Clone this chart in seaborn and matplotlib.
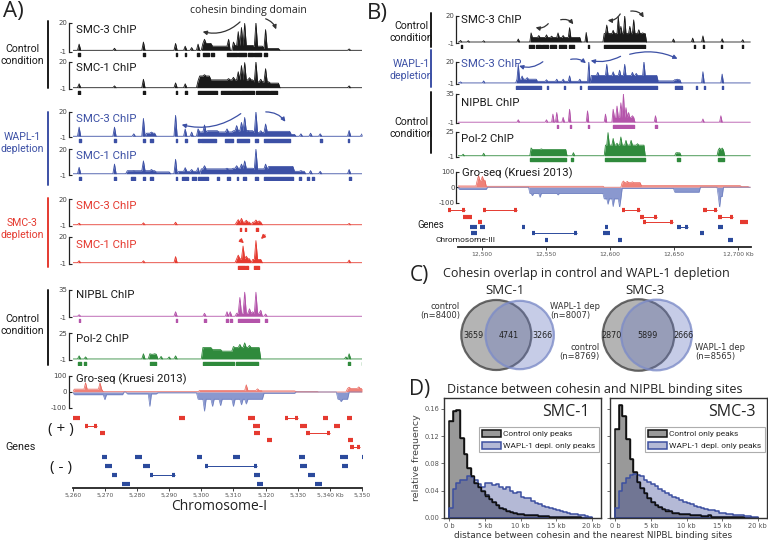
import numpy as np
import pandas as pd
import matplotlib
matplotlib.use("Agg")
import matplotlib.pyplot as plt
import seaborn as sns
from matplotlib import font_manager
from matplotlib.patches import Circle, Patch, FancyArrowPatch
from matplotlib.lines import Line2D
from matplotlib.colors import to_rgba

sns.set_theme(style="white")
plt.rcParams["font.family"] = ["DejaVu Sans"]
have = {f.name for f in font_manager.fontManager.ttflist}
if "Liberation Sans Narrow" in have:
    NARROW, NS = ["Liberation Sans Narrow", "DejaVu Sans"], 1.0
elif "Roboto" in have:
    NARROW, NS = ["Roboto", "DejaVu Sans"], 0.86
else:
    NARROW, NS = ["DejaVu Sans"], 0.8
HEAD = ["Open Sans", "DejaVu Sans"]

BLACK, BLUE, RED = "#1a1a1a", "#3c50a5", "#e53a30"
MAG, GREEN = "#b454aa", "#2f8a3c"
GRO_P, GRO_M = "#ef8178", "#8a98cf"

# ---------------- panel A data (kb on chromosome I) ----------------
xlim_A = (5260, 5350)
smc3_ctrl_A = [(5262, 4.5), (5273, 1.5), (5282, 6), (5292, 5), (5295, 3), (5297, 2), (5299, 4.5), (5301, 8),
               (5308.5, 8), (5310, 6), (5311.5, 13.5), (5312.5, 16.5), (5313.5, 19.5), (5317, 21), (5320, 15), (5346, 1)]
smc3_ctrl_A_broad = [(5300.5, 5303, 5), (5303, 5308, 3), (5310, 5316, 3.5), (5316, 5319, 3), (5319, 5324, 1.3)]
smc3_ctrl_A_calls = [(5261.8, 5262.4), (5282, 5282.6), (5292, 5292.6), (5294.8, 5295.4), (5298.8, 5299.4),
                     (5300.5, 5302.5), (5303, 5304), (5308, 5311), (5311.3, 5313.8), (5314.5, 5316),
                     (5316.5, 5318.5), (5319.5, 5320.5)]

smc1_ctrl_A = [(5262, 3), (5273, 1.4), (5282, 6.5), (5292, 3.7), (5295, 3), (5299, 5.3), (5301, 10), (5308.5, 7),
               (5310, 8), (5311.5, 12.3), (5312.5, 17), (5313.5, 19.3), (5315, 7.7), (5317, 20.5), (5318.5, 6.5),
               (5320, 14.6), (5346, 1.4)]
smc1_ctrl_A_broad = [(5299.5, 5302.5, 9), (5302.5, 5308, 6), (5308, 5316, 6), (5316, 5321, 4.5), (5321, 5324, 3.5)]
smc1_ctrl_A_calls = [(5261.8, 5262.4), (5282, 5282.6), (5292, 5292.6), (5295, 5295.5), (5299, 5305),
                     (5306, 5312), (5312.5, 5316.5), (5317, 5321), (5321.5, 5323.5)]

smc3_wapl_A = [(5262, 7.4), (5273, 7.4), (5279, 2), (5282, 14.5), (5284.5, 3.4), (5292, 17), (5295, 6), (5297, 3.4),
               (5299, 6), (5301, 9.2), (5308, 6), (5311, 8.7), (5312.5, 11.3), (5313.5, 15.3), (5314.5, 4.7),
               (5317, 21), (5318.5, 4.5), (5320, 10), (5331, 2), (5334, 2.5), (5337, 2), (5346, 4.7), (5350, 2)]
smc3_wapl_A_broad = [(5283, 5285.5, 2.5), (5299.5, 5310, 3.5), (5302, 5305, 4.5), (5310, 5316, 4.5),
                     (5316, 5320, 3), (5320.5, 5327.5, 4), (5328, 5329, 1.5)]
smc3_wapl_A_calls = [(5262, 5262.5), (5273, 5273.5), (5282, 5282.5), (5284, 5285), (5292, 5292.5), (5295, 5295.5),
                     (5299, 5299.5), (5300, 5304.5), (5307.5, 5310), (5311, 5315), (5316.8, 5317.8),
                     (5319.5, 5327.5), (5337, 5337.5), (5345.5, 5346)]

smc1_wapl_A = [(5262, 5.3), (5273, 7.9), (5279, 2.6), (5282, 10.5), (5284.5, 3.5), (5292, 11.8), (5295, 5),
               (5297, 3.5), (5299, 5), (5301, 6.6), (5308, 4.5), (5311, 6.6), (5312.5, 7.9), (5313.5, 10.5),
               (5317, 21), (5320, 7.9), (5331, 2.6), (5334, 2.6), (5337, 2), (5346, 3.5)]
smc1_wapl_A_broad = [(5277, 5285.5, 2.5), (5286, 5290, 1.5), (5293, 5299, 2), (5300, 5310, 4), (5310, 5316, 4.5),
                     (5316, 5321, 4), (5321, 5328.5, 6), (5329, 5332, 2)]
smc1_wapl_A_calls = [(5262, 5262.5), (5273, 5273.5), (5278, 5279.5), (5282, 5282.5), (5284, 5285), (5292, 5292.5),
                     (5294, 5296), (5297, 5298.5), (5299, 5302), (5305, 5305.5), (5308, 5309), (5311, 5311.5),
                     (5313, 5314), (5316.8, 5317.8), (5319.5, 5328.5), (5330.5, 5331), (5333, 5333.5),
                     (5334.5, 5335), (5346, 5346.5)]

smc3_dep_A = [(5262, 1.2), (5282, 1.5), (5292, 2), (5311.5, 4), (5312.5, 5), (5314, 3.5), (5317, 3.7), (5318, 3),
              (5346, 1)]
smc3_dep_A_broad = [(5311, 5315, 2), (5316, 5318.5, 2)]
smc3_dep_A_calls = [(5312, 5312.5), (5313.5, 5314), (5317, 5317.6)]

smc1_dep_A = [(5262, 1.5), (5282, 1.5), (5292, 4.7), (5311.5, 5.8), (5313, 12.8), (5314, 5), (5317, 17), (5346, 2)]
smc1_dep_A_broad = [(5311, 5315, 3), (5316, 5318.5, 2.5)]
smc1_dep_A_calls = [(5311.5, 5313.5), (5313.8, 5314.5), (5316.5, 5318)]

nipbl_A = [(5262, 2), (5292, 6), (5301, 4), (5308, 6), (5309, 6), (5312, 25), (5313.5, 32), (5315, 10),
           (5316, 6), (5317, 32), (5318.5, 8), (5320, 3)]
nipbl_A_broad = [(5311, 5318, 4)]
nipbl_A_calls = [(5262, 5262.4), (5292, 5292.4), (5301, 5301.4), (5307.8, 5308.3), (5309, 5309.5),
                 (5311.5, 5316), (5316.5, 5318), (5319.8, 5320.3)]

pol2_A = [(5262, 3), (5264, 2), (5282, 5), (5284, 5), (5285.5, 5), (5287.5, 2.5), (5290, 2), (5292, 3),
          (5301, 11), (5310, 12), (5312, 14), (5313.5, 15.5), (5315, 13), (5316, 11), (5345, 2), (5346, 5)]
pol2_A_broad = [(5284, 5286, 4.5), (5300.5, 5303, 11), (5303, 5306, 9), (5306, 5310, 7.5), (5310.5, 5318, 11)]
pol2_A_calls = [(5261.8, 5262.5), (5263.5, 5264), (5284, 5286), (5300.5, 5310.3), (5310.7, 5317.8),
                (5345.8, 5346.4), (5350, 5350.4)]

gro_plus_A = [(5264, 58), (5268.5, 58), (5314, 45), (5317.5, 20), (5346, 30), (5349, 32)]
gro_plus_A_broad = [(5260.5, 5269, 18), (5269, 5299.5, 2), (5299.5, 5318.5, 10), (5318.5, 5329, 7),
                    (5329, 5336, 3), (5345.5, 5350.5, 22)]
gro_minus_A = [(5270, -48), (5284, -90), (5301.2, -120), (5303.3, -90), (5306, -85), (5310, -90),
               (5312.7, -80), (5314, -75), (5343.5, -60)]
gro_minus_A_broad = [(5260.5, 5275.7, -17), (5277, 5286, -12), (5286, 5299, -5), (5299, 5319, -45),
                     (5319, 5329, -8), (5342.4, 5345.5, -45)]

genes_plus_A = [
    [(5260.1, 5262.3), (5293.1, 5295), (5314.6, 5316.8), (5326.1, 5330.1), (5338, 5339.5), (5345.4, 5347)],
    [(5263.8, 5267.6), (5316.2, 5318.4), (5330.8, 5333), (5341.4, 5343.3)],
    [(5268.5, 5270), (5316.5, 5318.4), (5332.7, 5340.2)],
    [(5320.5, 5322), (5345.8, 5347.3)],
    [(5346.4, 5349.5)],
]
genes_minus_A = [
    [(5269.1, 5270.7), (5279.4, 5281.6), (5298.7, 5300.3), (5310, 5312.2), (5330.5, 5332.4), (5343.3, 5345.5),
     (5349.9, 5350.4)],
    [(5270.1, 5272.2), (5281.9, 5284.1), (5301.2, 5317.4), (5330.8, 5333), (5343.9, 5345.5)],
    [(5272.2, 5273.8), (5284.1, 5291.9), (5316.5, 5318.4), (5333.3, 5335.5)],
    [(5275.4, 5277.9), (5317.4, 5319.3), (5335.5, 5337.7)],
]
ticks_A = [5260, 5270, 5280, 5290, 5300, 5310, 5320, 5330, 5340, 5350]
ticklabels_A = ["5,260", "5,270", "5,280", "5,290", "5,300", "5,310", "5,320", "5,330", "5,340 Kb", "5,350"]

# ---------------- panel B data (kb on chromosome III) ----------------
xlim_B = (12481.5, 12710)
smc3_ctrl_B = [(12484, 1.2), (12490, 1), (12502, 1), (12529, 2.3), (12539, 7), (12545, 5), (12550.8, 5.5),
               (12555, 4.5), (12559.9, 7), (12564, 5), (12569, 11), (12574, 3.5), (12582, 7.3), (12597.7, 13),
               (12602.6, 9), (12606.5, 19.5), (12609, 12), (12612, 21), (12615.9, 12), (12618.3, 17),
               (12622.9, 9.4), (12626, 7), (12650, 2.3), (12665, 3), (12673, 4.7), (12687.5, 2.5), (12704, 1.8)]
smc3_ctrl_B_broad = [(12537.8, 12576.8, 3.5), (12595, 12627.6, 6.5)]
smc3_ctrl_B_calls = [(12483.5, 12484.5), (12537, 12541), (12542, 12546), (12547, 12552), (12553, 12558),
                     (12560, 12566), (12568, 12572), (12582.5, 12583.5), (12595, 12627), (12665.5, 12666.5),
                     (12672.5, 12673.5), (12686.5, 12687.5), (12703, 12704)]

smc3_wapl_B = [(12484, 1), (12502, 1.9), (12528.5, 17.5), (12532, 6.5), (12536, 5), (12551, 3), (12558.5, 3.5),
               (12564, 3.5), (12569, 6.7), (12577, 3.5), (12583.3, 20), (12590.5, 10), (12597.7, 17.5),
               (12602.6, 10.5), (12608, 12), (12612, 17.5), (12617.2, 10), (12621, 9), (12626.3, 21),
               (12631.5, 5), (12652.4, 3.5), (12673, 10.5), (12687.5, 8.3)]
smc3_wapl_B_broad = [(12527, 12543, 3.5), (12543, 12582, 1.5), (12584.7, 12636.7, 7), (12637, 12650, 1.9),
                     (12650, 12655, 3)]
smc3_wapl_B_calls = [(12526.5, 12546), (12551, 12551.7), (12564, 12564.7), (12577, 12577.7), (12582.5, 12637),
                     (12651, 12656), (12667, 12667.7), (12673, 12674), (12687, 12688)]

nipbl_B = [(12529, 3), (12551, 3), (12556, 10), (12559, 12), (12564, 6), (12569, 16), (12583, 14), (12597, 10),
           (12603, 16), (12606, 20), (12609, 24), (12611, 35), (12613, 18), (12615, 12), (12617.5, 8),
           (12636, 8), (12673, 4), (12687, 8)]
nipbl_B_broad = [(12602, 12619, 6)]
nipbl_B_calls = [(12558.5, 12559.5), (12568.5, 12569.5), (12582.5, 12583.5), (12602, 12619), (12635.5, 12636.5)]

pol2_B = [(12486, 1.6), (12502, 2.6), (12539, 8.1), (12547, 7.1), (12557, 5.8), (12561, 3.2), (12572, 3.2),
          (12599, 24), (12603, 18), (12606, 13), (12609, 19.5), (12612.5, 16), (12616.5, 16), (12621.5, 12.5),
          (12625.5, 10), (12653, 3.2), (12686, 8), (12688, 8)]
pol2_B_broad = [(12538, 12566, 6.5), (12596, 12627, 11), (12651, 12655, 3), (12684, 12689, 6)]
pol2_B_calls = [(12538, 12566), (12569.5, 12571.5), (12596, 12627), (12652, 12655), (12684, 12689)]

gro_plus_B = [(12498, 75), (12500.5, 70), (12611, 40), (12614, 38), (12618, 35), (12622, 30)]
gro_plus_B_broad = [(12481.5, 12496, 8), (12496, 12503, 45), (12503, 12595, 6), (12609, 12624, 30),
                    (12624, 12702, 10), (12702, 12708, 5)]
gro_minus_B = [(12540, -55), (12546, -65), (12560, -50), (12599, -110), (12603, -125), (12608, -130),
               (12686, -130)]
gro_minus_B_broad = [(12482, 12504, -14), (12537, 12595, -40), (12595, 12609, -75), (12609, 12650, -8),
                     (12650, 12670, -32), (12684, 12688, -60)]

genes_plus_B = [
    [(12473.7, 12487), (12501, 12527.6), (12609.6, 12623.7), (12672.9, 12683.8)],
    [(12485.4, 12492.4), (12623.7, 12637), (12684.6, 12696.3)],
    [(12497.1, 12500.3), (12626, 12649.5), (12701.8, 12708)],
]
genes_minus_B = [
    [(12490.9, 12496.3), (12498.7, 12502.6), (12531.5, 12533.8), (12596.3, 12598.7), (12652.6, 12661.2),
     (12684.6, 12688.5)],
    [(12491.5, 12496.3), (12539.3, 12574.5), (12594.8, 12600.3), (12670.6, 12673)],
    [(12549.5, 12551.8), (12606.5, 12609.4), (12692.4, 12695.6)],
]
ticks_B = [12500, 12550, 12600, 12650, 12700]
ticklabels_B = ["12,500", "12,550", "12,600", "12,650", "12,700 Kb"]

# ---------------- panel C data ----------------
venn_names = ["SMC-1", "SMC-3"]
only_ctrl = [3659, 2870]
both = [4741, 5899]
only_wapl = [3266, 2666]

# ---------------- panel D data (relative frequency per 0.5 kb bin) ----------------
bin_width, bin_range = 0.5, (0, 20)
ctrl_smc1 = [0.142, 0.157, 0.158, 0.118, 0.094, 0.073, 0.062, 0.052, 0.046, 0.040, 0.033, 0.028, 0.024, 0.019,
             0.015, 0.013, 0.010, 0.009, 0.007, 0.006, 0.006, 0.005, 0.004, 0.004, 0.004, 0.003, 0.003, 0.003,
             0.002, 0.002, 0.002, 0.002, 0.001, 0.001, 0.001, 0.001, 0.001, 0.0, 0.0, 0.0]
wapl_smc1 = [0.015, 0.042, 0.052, 0.056, 0.055, 0.061, 0.060, 0.055, 0.050, 0.046, 0.052, 0.051, 0.048, 0.050,
             0.046, 0.042, 0.045, 0.040, 0.036, 0.038, 0.031, 0.029, 0.030, 0.025, 0.022, 0.021, 0.018, 0.016,
             0.014, 0.013, 0.011, 0.010, 0.009, 0.008, 0.006, 0.006, 0.004, 0.004, 0.003, 0.002]
ctrl_smc3 = [0.130, 0.166, 0.150, 0.116, 0.086, 0.068, 0.053, 0.044, 0.036, 0.030, 0.023, 0.019, 0.016, 0.013,
             0.011, 0.010, 0.008, 0.008, 0.006, 0.006, 0.006, 0.004, 0.005, 0.004, 0.003, 0.003, 0.004, 0.002,
             0.002, 0.002, 0.002, 0.002, 0.001, 0.001, 0.001, 0.001, 0.0, 0.0, 0.0, 0.0]
wapl_smc3 = [0.015, 0.040, 0.052, 0.058, 0.063, 0.064, 0.063, 0.061, 0.056, 0.053, 0.050, 0.047, 0.043, 0.040,
             0.037, 0.034, 0.031, 0.029, 0.027, 0.024, 0.022, 0.020, 0.018, 0.016, 0.015, 0.013, 0.012, 0.011,
             0.010, 0.008, 0.007, 0.006, 0.006, 0.005, 0.004, 0.004, 0.003, 0.003, 0.002, 0.002]
dist_ticks = [0, 5, 10, 15, 20]
dist_labels = ["0 b", "5 kb", "10 kb", "15 kb", "20 kb"]

# ================= drawing =================
W, H = 768, 544
fig = plt.figure(figsize=(7.68, 5.44), dpi=100)


def px_axes(x0, y0, x1, y1):
    return fig.add_axes([x0 / W, 1 - y1 / H, (x1 - x0) / W, (y1 - y0) / H])


def ftext(x, y, s, **kw):
    kw.setdefault("va", "center")
    fig.text(x / W, 1 - y / H, s, **kw)


def vbar(x, y0, y1, color):
    fig.add_artist(Line2D([x / W, x / W], [1 - y0 / H, 1 - y1 / H], color=color, lw=1.4))


def arrow(p0, p1, color, rad=-0.3):
    fig.add_artist(FancyArrowPatch((p0[0] / W, 1 - p0[1] / H), (p1[0] / W, 1 - p1[1] / H),
                                   transform=fig.transFigure, connectionstyle=f"arc3,rad={rad}",
                                   arrowstyle="-|>", mutation_scale=6, color=color, lw=0.9))


def signal(xlim, step, peaks, broad):
    grid = np.arange(xlim[0], xlim[1] + step / 2, step)
    sig = np.zeros(len(grid))
    for s, e, v in broad:
        m = (grid >= s) & (grid <= e)
        sig[m] = np.maximum(sig[m], v) if v > 0 else np.minimum(sig[m], v)
    for kb, v in peaks:
        i = np.abs(grid - kb).argmin()
        sig[i] = max(sig[i], v) if v > 0 else min(sig[i], v)
    return grid, sig


def scale_spine(ax, lo, hi, ticks, labels, out):
    for sp in ["top", "right", "bottom"]:
        ax.spines[sp].set_visible(False)
    ax.spines["left"].set_bounds(lo, hi)
    ax.spines["left"].set_position(("outward", out))
    ax.spines["left"].set_color("#222222")
    ax.spines["left"].set_linewidth(0.9)
    ax.set_yticks(ticks, labels)
    ax.tick_params(axis="y", direction="in", length=2, width=0.8, labelsize=5, pad=1, labelcolor="#444444",
                   color="#222222", left=True)
    ax.set_xticks([])
    ax.patch.set_alpha(0)


def chip_track(x0, x1, xlim, step, ytop, ybase, vmax, peaks, broad, calls, color, out):
    ax = px_axes(x0, ytop, x1, ybase + 6)
    upp = (vmax + 1) / (ybase - ytop)
    ax.set_xlim(*xlim)
    ax.set_ylim(-1 - 6 * upp, vmax)
    grid, sig = signal(xlim, step, peaks, broad)
    sig = np.minimum(sig, vmax)
    ax.fill_between(grid, 0, sig, color=color, lw=0)
    ax.plot(grid, sig, color=color, lw=0.6)
    ax.broken_barh([(s, e - s) for s, e in calls], (-1 - 4.6 * upp, 3 * upp), color=color)
    scale_spine(ax, -1, vmax, [-1, vmax], ["-1", str(vmax)], out)
    return ax


def gro_track(x0, x1, xlim, step, y100, y0, ym100, plus, plus_b, minus, minus_b, out, pad_top, pad_bot):
    ax = px_axes(x0, y100 - pad_top, x1, ym100 + pad_bot)
    ppu = (ym100 - y100) / 200
    ax.set_xlim(*xlim)
    ax.set_ylim(-100 - pad_bot / ppu, 100 + pad_top / ppu)
    g, sp = signal(xlim, step, plus, plus_b)
    g, sm = signal(xlim, step, minus, minus_b)
    ax.fill_between(g, 0, sp, color=GRO_P, lw=0)
    ax.plot(g, sp, color="#e8645a", lw=0.5)
    ax.fill_between(g, 0, sm, color=GRO_M, lw=0)
    ax.plot(g, sm, color="#6f80c0", lw=0.5)
    scale_spine(ax, -100, 100, [-100, 0, 100], ["-100", "0", "100"], out)
    return ax


def gene_track(x0, x1, y0, y1, xlim, plus_rows, plus_y, minus_rows, minus_y, block, ticks, labels):
    ax = px_axes(x0, y0, x1, y1)
    ax.set_xlim(*xlim)
    ax.set_ylim(y1, y0)
    for rows, ys, col in [(plus_rows, plus_y, RED), (minus_rows, minus_y, "#2b4a9c")]:
        for genes, y in zip(rows, ys):
            for s, e in genes:
                if e - s <= 3 * block:
                    ax.hlines(y, s, e, color=col, lw=3, clip_on=False)
                    continue
                ax.hlines(y, s, e, color=col, lw=0.7, clip_on=False)
                ax.hlines(y, s, s + block, color=col, lw=3, clip_on=False)
                ax.hlines(y, e - block, e, color=col, lw=3, clip_on=False)
    for sp in ["top", "right", "left"]:
        ax.spines[sp].set_visible(False)
    ax.spines["bottom"].set_color("#222222")
    ax.spines["bottom"].set_linewidth(1.3)
    ax.set_yticks([])
    ax.set_xticks(ticks, labels)
    ax.tick_params(axis="x", direction="out", length=2, width=0.6, labelsize=4.3, pad=1.5,
                   labelcolor="#555555", bottom=True)
    ax.patch.set_alpha(0)
    return ax


# ---------- Panel A ----------
AX0, AX1 = 72.7, 362
a_tracks = [
    (22.7, 51.7, 20, smc3_ctrl_A, smc3_ctrl_A_broad, smc3_ctrl_A_calls, BLACK, "SMC-3 ChIP", 33),
    (61.7, 89, 20, smc1_ctrl_A, smc1_ctrl_A_broad, smc1_ctrl_A_calls, BLACK, "SMC-1 ChIP", 71),
    (111.7, 137.5, 20, smc3_wapl_A, smc3_wapl_A_broad, smc3_wapl_A_calls, BLUE, "SMC-3 ChIP", 122),
    (149.3, 175, 20, smc1_wapl_A, smc1_wapl_A_broad, smc1_wapl_A_calls, BLUE, "SMC-1 ChIP", 159),
    (199.3, 226, 20, smc3_dep_A, smc3_dep_A_broad, smc3_dep_A_calls, RED, "SMC-3 ChIP", 209),
    (236.7, 264, 20, smc1_dep_A, smc1_dep_A_broad, smc1_dep_A_calls, RED, "SMC-1 ChIP", 248),
    (290, 317, 35, nipbl_A, nipbl_A_broad, nipbl_A_calls, MAG, "NIPBL ChIP", 298),
    (333, 360, 25, pol2_A, pol2_A_broad, pol2_A_calls, GREEN, "Pol-2 ChIP", 342),
]
for ytop, ybase, vmax, pk, br, cl, col, lab, ylab in a_tracks:
    chip_track(AX0, AX1, xlim_A, 0.5, ytop, ybase, vmax, pk, br, cl, col, 3)
    ftext(76, ylab, lab, va="baseline", fontsize=9.5 * NS, family=NARROW,
          color=col if col != MAG and col != GREEN else BLACK)
gro_track(AX0, AX1, xlim_A, 0.5, 376, 392, 408, gro_plus_A, gro_plus_A_broad, gro_minus_A, gro_minus_A_broad,
          3, 4, 6)
ftext(76, 382, "Gro-seq (Kruesi 2013)", va="baseline", fontsize=9.5 * NS, family=NARROW, color=BLACK)
gene_track(AX0, AX1, 414, 488, xlim_A, genes_plus_A, [418, 425.5, 433, 440, 447], genes_minus_A,
           [456.5, 465.5, 475, 484], 1.0, ticks_A, ticklabels_A)
ftext(219, 506, "Chromosome-I", ha="center", fontsize=10, family=HEAD, color="#222222")

ftext(3, 12, "A)", fontsize=16, family=HEAD, color="#222222")
ftext(248, 11, "cohesin binding domain", ha="center", fontsize=7.5, family=HEAD, color="#222222")
arrow((242, 20), (200, 31), "#333333", -0.3)
arrow((263, 18), (277, 32), "#333333", -0.3)
arrow((243, 112), (179, 124), BLUE, -0.25)
arrow((263, 112), (287, 124), BLUE, -0.3)
arrow((238, 238), (246, 245), RED, 0)
arrow((267, 233), (259, 241), RED, 0)

vbar(48, 21, 88, BLACK)
vbar(48, 112, 185, BLUE)
vbar(48, 198, 267, RED)
vbar(48, 290, 365, BLACK)
lab_kw = dict(ha="center", fontsize=8.8 * NS, family=NARROW, linespacing=1.15)
ftext(22, 55, "Control\ncondition", color=BLACK, **lab_kw)
ftext(22, 143, "WAPL-1\ndepletion", color=BLUE, **lab_kw)
ftext(22, 229, "SMC-3\ndepletion", color=RED, **lab_kw)
ftext(22, 325, "Control\ncondition", color=BLACK, **lab_kw)
ftext(21, 447, "Genes", ha="center", fontsize=9 * NS, family=NARROW, color=BLACK)
ftext(61, 429, "( + )", ha="center", fontsize=11, family=HEAD, color=BLACK)
ftext(61, 467, "( - )", ha="center", fontsize=11, family=HEAD, color=BLACK)

# ---------- Panel B ----------
BX0, BX1 = 458, 751
b_tracks = [
    (16, 43.3, 20, smc3_ctrl_B, smc3_ctrl_B_broad, smc3_ctrl_B_calls, BLACK, "SMC-3 ChIP", 23),
    (61.7, 84, 20, smc3_wapl_B, smc3_wapl_B_broad, smc3_wapl_B_calls, BLUE, "SMC-3 ChIP", 66.7),
    (94, 123, 35, nipbl_B, nipbl_B_broad, nipbl_B_calls, MAG, "NIPBL ChIP", 106),
    (131.7, 156.7, 25, pol2_B, pol2_B_broad, pol2_B_calls, GREEN, "Pol-2 ChIP", 141.7),
]
for ytop, ybase, vmax, pk, br, cl, col, lab, ylab in b_tracks:
    chip_track(BX0, BX1, xlim_B, 1, ytop, ybase, vmax, pk, br, cl, col, 1.5)
    ftext(461, ylab, lab, va="baseline", fontsize=9.5 * NS, family=NARROW,
          color=col if col != MAG and col != GREEN else BLACK)
gro_track(BX0, BX1, xlim_B, 1, 171.7, 187.3, 202.7, gro_plus_B, gro_plus_B_broad, gro_minus_B,
          gro_minus_B_broad, 1.5, 3, 4)
ftext(462, 176.7, "Gro-seq (Kruesi 2013)", va="baseline", fontsize=9.5 * NS, family=NARROW, color=BLACK)
gene_track(BX0, BX1, 207, 247, xlim_B, genes_plus_B, [210, 216.5, 221.5], genes_minus_B,
           [226.7, 232.7, 240], 2.5, ticks_B, ticklabels_B)
ftext(431, 225, "Genes", ha="center", fontsize=8 * NS, family=NARROW, color=BLACK)
ftext(466, 240, "Chromosome-III", ha="center", fontsize=7 * NS, family=NARROW, color=BLACK)

ftext(367, 13, "B)", fontsize=16, family=HEAD, color="#222222")
arrow((550, 21.5), (533, 26.5), "#333333", -0.4)
arrow((558, 20.5), (575, 26.5), "#333333", -0.4)
arrow((621.5, 11.5), (605, 20), "#333333", -0.4)
arrow((628, 11.5), (645, 20), "#333333", -0.4)
arrow((545, 60), (516.5, 65), BLUE)
arrow((568, 60), (588, 65), BLUE)
arrow((623, 55), (588, 60), BLUE, -0.2)
arrow((627, 55), (680, 60), BLUE, -0.2)

vbar(431, 13, 47, BLACK)
vbar(431, 50, 87, BLUE)
vbar(431, 92, 153, BLACK)
ftext(411, 32, "Control\ncondition", color=BLACK, **lab_kw)
ftext(411, 70, "WAPL-1\ndepletion", color=BLUE, **lab_kw)
ftext(411, 128, "Control\ncondition", color=BLACK, **lab_kw)

# ---------- Panel C : area-proportional Venn diagrams ----------
def lens_area(r1, r2, d):
    a1 = r1 ** 2 * np.arccos((d * d + r1 * r1 - r2 * r2) / (2 * d * r1))
    a2 = r2 ** 2 * np.arccos((d * d + r2 * r2 - r1 * r1) / (2 * d * r2))
    a3 = 0.5 * np.sqrt((-d + r1 + r2) * (d + r1 - r2) * (d - r1 + r2) * (d + r1 + r2))
    return a1 + a2 - a3


def centre_distance(r1, r2, area):
    lo, hi = abs(r1 - r2) + 1e-9, r1 + r2
    for _ in range(80):
        d = (lo + hi) / 2
        if lens_area(r1, r2, d) > area:
            lo = d
        else:
            hi = d
    return d


axc = px_axes(384, 283, 768, 376)
axc.set_xlim(384, 768)
axc.set_ylim(376, 283)
axc.axis("off")
PXU = 35 / np.sqrt((only_ctrl[0] + both[0]) / np.pi)
for mid, a, b, c in zip([508, 647.5], only_ctrl, both, only_wapl):
    r1 = np.sqrt((a + b) / np.pi)
    r2 = np.sqrt((b + c) / np.pi)
    d = centre_distance(r1, r2, b) * PXU
    r1, r2 = r1 * PXU, r2 * PXU
    c1, c2 = mid - d / 2, mid + d / 2
    axc.add_patch(Circle((c1, 335), r1, facecolor=to_rgba("#5a5a5a", 0.45), edgecolor=to_rgba("#444444", 0.8),
                         lw=1.6))
    axc.add_patch(Circle((c2, 335), r2, facecolor=to_rgba("#6a7ac0", 0.38), edgecolor=to_rgba("#7d8cc8", 0.8),
                         lw=1.6))
    for xx, n in [((c1 - r1 + c2 - r2) / 2, a), ((c2 - r2 + c1 + r1) / 2, b), ((c1 + r1 + c2 + r2) / 2, c)]:
        axc.text(xx, 335, str(n), ha="center", va="center", fontsize=5.8, color="#222222")

venn_kw = dict(fontsize=6, color="#333333", linespacing=1.1)
ftext(460, 311, "control\n(n=8400)", ha="right", **venn_kw)
ftext(550, 311, "WAPL-1 dep\n(n=8007)", ha="left", **venn_kw)
ftext(600, 352, "control\n(n=8769)", ha="right", **venn_kw)
ftext(695, 352, "WAPL-1 dep\n(n=8565)", ha="left", **venn_kw)
ftext(505, 291, venn_names[0], ha="center", fontsize=9.5, family=HEAD, color="#222222")
ftext(645, 291, venn_names[1], ha="center", fontsize=9.5, family=HEAD, color="#222222")
ftext(410, 275, "C)", fontsize=15, family=HEAD, color="#222222")
ftext(443, 273, "Cohesin overlap in control and WAPL-1 depletion", fontsize=9.0, family=HEAD,
      color="#222222")

# ---------- Panel D : histograms ----------
centers = np.arange(bin_range[0], bin_range[1], bin_width) + bin_width / 2
GRAYC, HBLUE, HFILL = "#777777", "#3c4fa0", "#28378c"
ftext(409, 390, "D)", fontsize=15, family=HEAD, color="#222222")
ftext(447, 390, "Distance between cohesin and NIPBL binding sites", fontsize=9.0, family=HEAD,
      color="#222222")
axes_d = [px_axes(444, 398, 601, 518), px_axes(610, 398, 767, 518)]
for ax, ctrl, wapl, name in zip(axes_d, [ctrl_smc1, ctrl_smc3], [wapl_smc1, wapl_smc3], venn_names):
    hist = pd.DataFrame({"dist": centers, "ctrl": ctrl, "wapl": wapl})
    hkw = dict(data=hist, x="dist", binwidth=bin_width, binrange=bin_range, element="step", ax=ax)
    sns.histplot(weights="ctrl", fill=True, color=GRAYC, alpha=0.75, edgecolor="#111111", linewidth=1.1, **hkw)
    sns.histplot(weights="wapl", fill=True, color=HFILL, alpha=0.35, edgecolor=HBLUE, linewidth=1.1, **hkw)
    sns.histplot(weights="ctrl", fill=False, color="#111111", linewidth=1.0, **hkw)
    ax.set_xlim(-0.75, 21.3)
    ax.set_ylim(0, 0.176)
    ax.set_xticks(dist_ticks, dist_labels)
    ax.set_yticks([0, 0.04, 0.08, 0.12, 0.16])
    ax.set_xlabel("")
    ax.set_ylabel("")
    for sp in ax.spines.values():
        sp.set_color("#333333")
        sp.set_linewidth(1.0)
    ax.tick_params(direction="out", length=2, width=0.6, labelsize=4.8, pad=1.5, labelcolor="#555555",
                   color="#555555", bottom=True, left=True)
    ax.text(0.93, 0.88, name, transform=ax.transAxes, ha="right", va="center", fontsize=11.5,
            family=HEAD, color="#222222")
    handles = [Patch(facecolor=to_rgba(GRAYC, 0.75), edgecolor="#111111", lw=1.1),
               Patch(facecolor=to_rgba(HFILL, 0.35), edgecolor=HBLUE, lw=1.1)]
    leg = ax.legend(handles, ["Control only peaks", "WAPL-1 depl. only peaks"], loc="upper right",
                    bbox_to_anchor=(0.985, 0.76), prop={"family": NARROW, "size": 7 * NS},
                    frameon=True, fancybox=False, edgecolor="#999999", borderpad=0.4, handlelength=2.2,
                    handleheight=0.9, handletextpad=0.3, labelspacing=0.5, borderaxespad=0)
    leg.get_frame().set_linewidth(0.8)
axes_d[0].set_ylabel("relative frequency", fontsize=6.8, color="#444444", labelpad=2)
axes_d[1].tick_params(labelleft=False)
ftext(593, 536, "distance between cohesin and the nearest NIPBL binding sites", ha="center", fontsize=6.4,
      color="#333333")

fig.savefig("out.png", dpi=100)
